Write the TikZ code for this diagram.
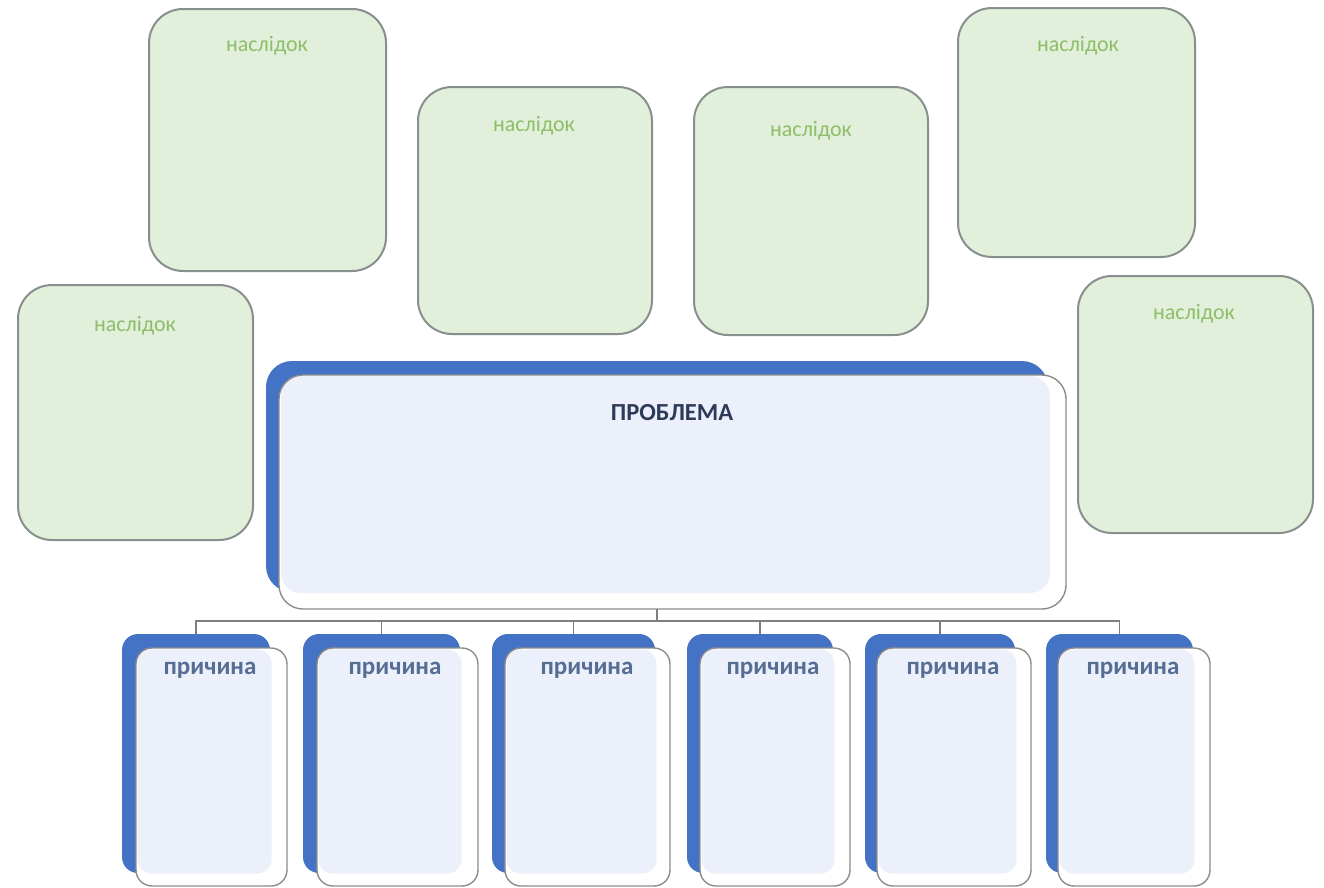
\documentclass[tikz,border=0pt]{standalone}
\usepackage{fontspec}
\setmainfont{Carlito}
\definecolor{cardblue}{HTML}{4472C4}
\definecolor{cardfill}{HTML}{ECF0FA}
\definecolor{cardline}{HTML}{8C8C8C}
\definecolor{greenfill}{HTML}{E2EFDA}
\definecolor{greenline}{HTML}{87908C}
\definecolor{greentext}{HTML}{8DBF6A}
\definecolor{causetext}{HTML}{566E94}
\definecolor{probtext}{HTML}{2E3A59}
\definecolor{busline}{HTML}{7F7F7F}
\begin{document}
\begin{tikzpicture}[x=1pt,y=-1pt,
  box/.style={rectangle,anchor=north west,inner sep=0pt,outer sep=0pt},
  conseq/.style={box,fill=greenfill,draw=greenline,line width=2pt,rounded corners=34pt},
  backcard/.style={box,fill=cardblue,rounded corners=16pt},
  frontcard/.style={box,fill=white,rounded corners=16pt},
  frontline/.style={box,draw=cardline,line width=1.4pt,rounded corners=16pt},
  innerfill/.style={box,fill=cardfill,rounded corners=14pt},
  clabel/.style={font=\fontsize{22}{26}\selectfont,text=greentext,inner sep=0pt},
  causelabel/.style={font=\bfseries\fontsize{25}{30}\selectfont,text=causetext,inner sep=0pt},
  problabel/.style={font=\bfseries\fontsize{24.5}{29}\selectfont,text=probtext,inner sep=0pt},
  wire/.style={draw=busline,line width=1.4pt}]
\useasboundingbox[fill=white] (0,0) rectangle (1324,887);

% consequences
\node[conseq,minimum width=237pt,minimum height=262pt] (g1) at (149,9) {};
\node[conseq,minimum width=235pt,minimum height=255pt] (g2) at (18,285) {};
\node[conseq,minimum width=234pt,minimum height=247pt] (g3) at (418,87) {};
\node[conseq,minimum width=234pt,minimum height=248pt] (g4) at (694,87) {};
\node[conseq,minimum width=237pt,minimum height=249pt] (g5) at (958,8) {};
\node[conseq,minimum width=235pt,minimum height=257pt] (g6) at (1078,276) {};
\node[clabel] (t1) at (267,46) {наслідок};
\node[clabel] (t2) at (135,326) {наслідок};
\node[clabel] (t3) at (534,126) {наслідок};
\node[clabel] (t4) at (811,131) {наслідок};
\node[clabel] (t5) at (1078,46) {наслідок};
\node[clabel] (t6) at (1194,314) {наслідок};

% connectors
\coordinate (bus) at (0,621);
\node[backcard,rounded corners=26pt,minimum width=782pt,minimum height=231pt] (probback) at (266,361) {};
\node[backcard,minimum width=148pt,minimum height=239pt] (c1) at (122,634) {};
\node[backcard,minimum width=157pt,minimum height=239pt] (c2) at (303,634) {};
\node[backcard,minimum width=163pt,minimum height=239pt] (c3) at (492,634) {};
\node[backcard,minimum width=146pt,minimum height=239pt] (c4) at (687,634) {};
\node[backcard,minimum width=150pt,minimum height=239pt] (c5) at (865,634) {};
\node[backcard,minimum width=147pt,minimum height=239pt] (c6) at (1046,634) {};

% problem card
\node[frontcard,rounded corners=24pt,minimum width=787pt,minimum height=234pt] (probfront) at (279,375) {};
\node[innerfill,rounded corners=20pt,minimum width=769pt,minimum height=217pt] (probin) at (281,376) {};
\node[frontline,rounded corners=24pt,minimum width=787pt,minimum height=234pt] (prob) at (279,375) {};
\node[problabel] (pt) at (672,413) {ПРОБЛЕМА};

\draw[wire] (probback.south |- prob.south) -- (probback.south |- bus);
\draw[wire] (c1.north) -- (c1.north |- bus) -- (c6.north |- bus) -- (c6.north);
\draw[wire] (c2.north |- bus) -- (c2.north);
\draw[wire] (c3.north |- bus) -- (c3.north);
\draw[wire] (c4.north |- bus) -- (c4.north);
\draw[wire] (c5.north |- bus) -- (c5.north);

% cause cards
\foreach \n/\fx/\fw/\bw/\tx in {1/136/151/134/210, 2/317/161/143/395, 3/505/165/150/587, 4/700/150/133/773, 5/877/154/138/953, 6/1058/152/135/1133}{
  \node[frontcard,minimum width=\fw pt,minimum height=238pt] (f\n) at (\fx,648) {};
  \node[innerfill,minimum width=\bw pt,minimum height=224pt] (i\n) at (\fx+1.5,649.5) {};
  \node[frontline,minimum width=\fw pt,minimum height=238pt] (o\n) at (\fx,648) {};
  \node[causelabel] (ct\n) at (\tx,670) {причина};
}
\end{tikzpicture}
\end{document}
